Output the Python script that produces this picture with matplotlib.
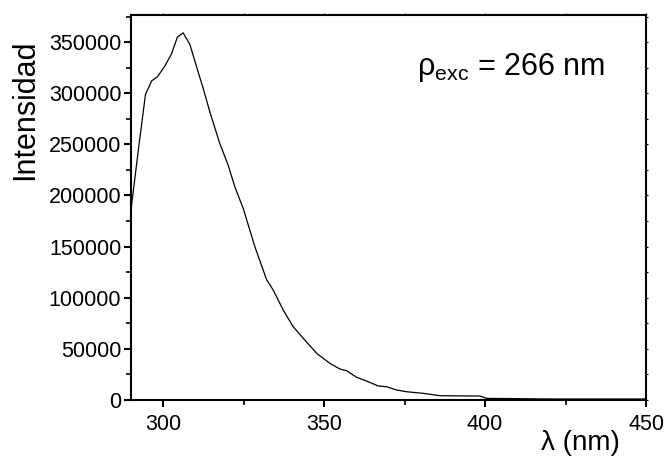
import matplotlib
matplotlib.use("Agg")
import matplotlib.pyplot as plt
from matplotlib.ticker import MultipleLocator

plt.rcParams["font.family"] = ["Liberation Sans", "DejaVu Sans"]
plt.rcParams["mathtext.fontset"] = "custom"
plt.rcParams["mathtext.rm"] = "Liberation Sans"
plt.rcParams["mathtext.it"] = "Liberation Sans:italic"

# espectro de emisión
wavelength = [290.0, 292.5, 294.5, 296.4, 298.2, 300.6, 302.6, 304.4, 306.2, 308.3,
              310.4, 312.5, 314.5, 317.6, 320.2, 322.3, 324.9, 328.5, 332.1, 334.2,
              337.3, 340.4, 344.0, 347.7, 351.8, 354.9, 357.0, 360.1, 363.7, 366.8,
              369.4, 372.5, 375.6, 380.8, 386.0, 392.0, 398.4, 400.5, 420.0, 450.0]
intensity = [186000, 250000, 298800, 312000, 316000, 327000, 338600, 354800, 359000, 347700,
             325500, 304000, 281600, 250700, 229500, 208000, 187000, 149700, 117900, 107400,
             87900, 71600, 58600, 45600, 35800, 30300, 28600, 22200, 17900, 13700,
             13000, 9800, 8100, 6500, 4200, 4000, 3900, 1600, 1000, 1000]

fig = plt.figure(figsize=(6.66, 4.61), dpi=100)
ax = fig.add_axes([0.1967, 0.1323, 0.7733, 0.8341])
ax.plot(wavelength, intensity, color="black", linewidth=0.9)

ax.set_xlim(290, 450)
ax.set_ylim(0, 376000)
ax.xaxis.set_major_locator(MultipleLocator(50))
ax.xaxis.set_minor_locator(MultipleLocator(25))
ax.yaxis.set_major_locator(MultipleLocator(50000))
ax.yaxis.set_minor_locator(MultipleLocator(25000))

for s in ax.spines.values():
    s.set_linewidth(1.5)

ax.tick_params(which="major", direction="out", length=5, width=1.5, labelsize=15.5, pad=2)
ax.tick_params(which="minor", direction="out", length=3.5, width=1.2)
ax.tick_params(axis="x", which="major", pad=5)
ax.tick_params(which="both", top=True, right=True)
# ticks del borde superior y derecho casi invisibles
for t in ax.xaxis.get_major_ticks() + ax.xaxis.get_minor_ticks():
    t.tick2line.set_markersize(1.5)
    t.tick2line.set_markeredgewidth(0.8)
for t in ax.yaxis.get_major_ticks() + ax.yaxis.get_minor_ticks():
    t.tick2line.set_markersize(1.5)
    t.tick2line.set_markeredgewidth(0.8)

ax.set_ylabel("Intensidad", fontsize=22, va="center")
ax.yaxis.set_label_coords(-0.206, 0.756)
ax.set_xlabel("λ (nm)", fontsize=20, va="center")
ax.xaxis.set_label_coords(0.872, -0.112)

ax.text(0.555, 0.845, r"$\mathrm{ρ_{exc}}$ = 266 nm", transform=ax.transAxes,
        fontsize=22, ha="left", va="baseline")

fig.savefig("out.png")
